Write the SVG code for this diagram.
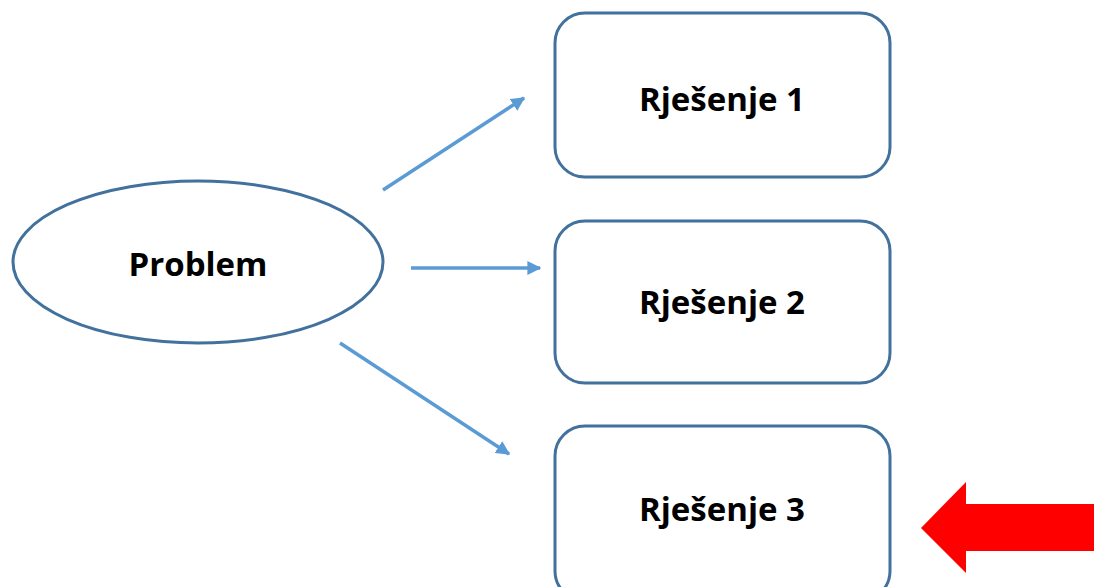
<svg xmlns="http://www.w3.org/2000/svg" width="1094" height="587" viewBox="0 0 1094 587">
<style>
.node{fill:#fff;stroke:#41719c;stroke-width:3}
.lbl{font-family:"Open Sans","Noto Sans",sans-serif;font-weight:bold;font-size:33px;fill:#000;text-anchor:middle;dominant-baseline:central}
.conn{stroke:#5b9bd5;stroke-width:3.5;fill:none;marker-end:url(#ah)}
</style>
<defs>
<marker id="ah" viewBox="0 0 10 10" refX="9" refY="5" markerWidth="4" markerHeight="4" orient="auto" markerUnits="strokeWidth">
<path d="M0,0 L10,5 L0,10 Z" fill="#5b9bd5"/>
</marker>
</defs>
<rect width="1094" height="587" fill="#fff"/>
<g id="problem">
<ellipse class="node" cx="198" cy="262" rx="185" ry="81"/>
<text class="lbl" x="198" y="263">Problem</text>
</g>
<g id="rjesenje1">
<rect class="node" x="555" y="13" width="335" height="164" rx="30"/>
<text class="lbl" x="722" y="98">Rješenje 1</text>
</g>
<g id="rjesenje2">
<rect class="node" x="555" y="221" width="335" height="162" rx="30"/>
<text class="lbl" x="722" y="301">Rješenje 2</text>
</g>
<g id="rjesenje3">
<rect class="node" x="555" y="426" width="335" height="175" rx="30"/>
<text class="lbl" x="722" y="508">Rješenje 3</text>
</g>
<g id="connectors">
<line class="conn" x1="383" y1="190" x2="524" y2="98"/>
<line class="conn" x1="411" y1="268" x2="540" y2="268"/>
<line class="conn" x1="340" y1="343" x2="509" y2="454"/>
</g>
<g id="red-arrow">
<polygon points="921,528 966,482 966,504 1094,504 1094,551 966,551 966,573" fill="#ff0000"/>
</g>
</svg>
